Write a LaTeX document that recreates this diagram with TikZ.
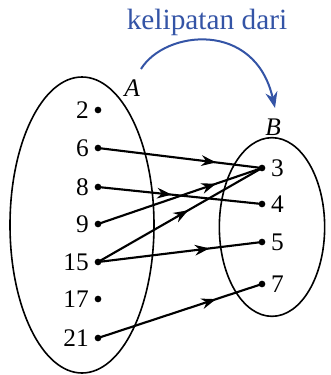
\documentclass[tikz,border=0pt]{standalone}
\usepackage{fontspec}
\setmainfont{Liberation Serif}
\usepackage{tikz}
\usetikzlibrary{arrows.meta, positioning, shapes.geometric, decorations.markings}
\definecolor{relblue}{RGB}{52,84,166}

\begin{document}
\begin{tikzpicture}[x=0.75pt, y=-0.75pt,
    setshape/.style={ellipse, draw, line width=1.2pt, inner sep=0pt},
    dot/.style={circle, fill, inner sep=0pt, minimum size=5pt},
    elem/.style={font=\fontsize{19pt}{19pt}\selectfont, inner sep=2pt},
    setname/.style={font=\fontsize{19pt}{19pt}\selectfont\itshape},
    conn/.style={line width=1.6pt, postaction={decorate},
        decoration={markings, mark=at position #1 with {\arrow{Stealth[length=11pt,width=8pt]}}}}]

    \useasboundingbox (0,0) rectangle (330,375);

    \node[setshape, minimum width=108pt, minimum height=222pt] (setA) at (82,225) {};
    \node[setshape, minimum width=79pt, minimum height=134pt] (setB) at (272,227) {};
    \node[setname] (nameA) at (132,88) {A};
    \node[setname] (nameB) at (273,127) {B};

    \node[dot] (a2) at (98,110) {};
    \node[dot] (a6) at (98,148) {};
    \node[dot] (a8) at (98,187) {};
    \node[dot] (a9) at (98,224) {};
    \node[dot] (a15) at (98,262) {};
    \node[dot] (a17) at (98,299) {};
    \node[dot] (a21) at (98,338) {};
    \foreach \v in {2,6,8,9,15,17,21}
        \node[elem, anchor=east] (la\v) at ([xshift=-2pt]a\v.west) {\v};

    \node[dot] (b3) at (262,168) {};
    \node[dot] (b4) at (262,204) {};
    \node[dot] (b5) at (262,242) {};
    \node[dot] (b7) at (262,284) {};
    \foreach \v in {3,4,5,7}
        \node[elem, anchor=west] (lb\v) at ([xshift=2pt]b\v.east) {\v};

    \draw[conn=0.72] (a6.center) -- (b3.center);
    \draw[conn=0.45] (a8.center) -- (b4.center);
    \draw[conn=0.72] (a9.center) -- (b3.center);
    \draw[conn=0.55] (a15.center) -- (b3.center);
    \draw[conn=0.68] (a15.center) -- (b5.center);
    \draw[conn=0.72] (a21.center) -- (b7.center);

    \node[text=relblue, font=\fontsize{22pt}{22pt}\selectfont] (rel) at (207,22) {kelipatan dari};
    \coordinate (relstart) at (141,69);
    \coordinate (relend) at (275,108);
    \draw[relblue, line width=1.5pt, -{Stealth[length=12pt,width=9pt]}]
        (relstart) .. controls (165,30) and (255,20) .. (relend);
\end{tikzpicture}
\end{document}
